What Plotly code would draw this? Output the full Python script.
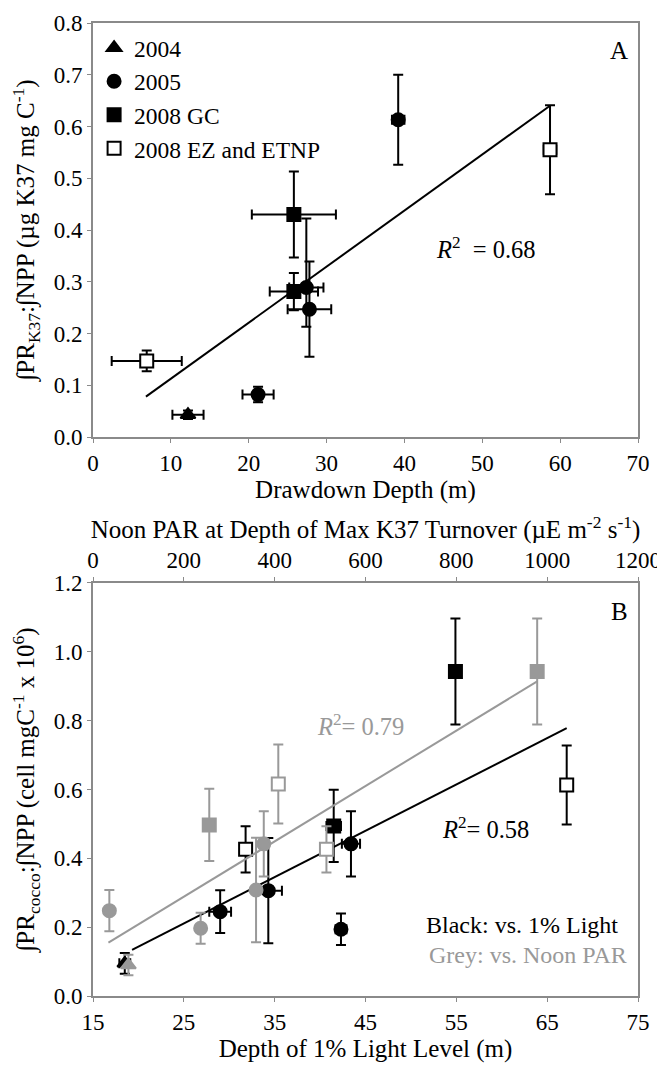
import plotly.graph_objects as go

# ---- Panel A: drawdown depth vs PR:NPP ----
y2004_x = [12.2]
y2004_y = [0.043]
y2004_xerr = [2.0]
y2004_yerr = [0.008]

y2005_x = [21.2, 27.4, 27.8, 39.2]
y2005_y = [0.082, 0.289, 0.247, 0.613]
y2005_xerr = [2.0, 2.2, 2.8, 0.8]
y2005_yerr_plus = [0.015, 0.133, 0.092, 0.087]
y2005_yerr_minus = [0.015, 0.076, 0.092, 0.087]

gc_x = [25.8, 25.8]
gc_y = [0.430, 0.281]
gc_xerr = [5.4, 3.1]
gc_yerr = [0.083, 0.036]

ez_x = [6.9, 58.7]
ez_y = [0.147, 0.555]
ez_xerr = [4.5, 0.8]
ez_yerr = [0.020, 0.086]

fitA_x = [6.8, 58.7]
fitA_y = [0.078, 0.640]

# ---- Panel B: black = depth of 1% light, grey = noon PAR ----
b_tri_x = [18.5]
b_tri_y = [0.095]
b_tri_xerr = [0.6]
b_tri_yerr = [0.03]

b_circ_x = [29.0, 34.3, 43.4, 42.3]
b_circ_y = [0.245, 0.306, 0.442, 0.194]
b_circ_xerr = [1.2, 1.5, 1.0, 0.6]
b_circ_yerr = [0.062, 0.153, 0.095, 0.046]

b_sq_x = [41.5, 54.9]
b_sq_y = [0.494, 0.943]
b_sq_xerr = [0.8, 0.0]
b_sq_yerr = [0.105, 0.154]

b_osq_x = [31.8, 67.15]
b_osq_y = [0.426, 0.613]
b_osq_yerr = [0.067, 0.115]

fitB_black_x = [19.3, 67.15]
fitB_black_y = [0.134, 0.778]

g_tri_x = [78]
g_tri_y = [0.09]
g_tri_yerr = [0.03]

g_circ_x = [36, 237, 359, 376]
g_circ_y = [0.248, 0.197, 0.308, 0.442]
g_circ_yerr = [0.06, 0.045, 0.152, 0.095]

g_sq_x = [256, 978]
g_sq_y = [0.497, 0.943]
g_sq_yerr = [0.105, 0.154]

g_osq_x = [408, 514]
g_osq_y = [0.616, 0.426]
g_osq_yerr = [0.115, 0.067]

fitB_grey_x = [34, 978]
fitB_grey_y = [0.155, 0.914]

FONT = "Liberation Serif"
GREY = "#999999"
AXIS = "#8a8a8a"


def _err(vals, color, minus=None):
    d = dict(type="data", array=vals, color=color, thickness=2, width=5, visible=True)
    if minus is not None:
        d["symmetric"] = False
        d["arrayminus"] = minus
    return d


fig = go.Figure()

# ── Panel A ───────────────────────────────────────────────────────────────
fig.add_trace(go.Scatter(x=fitA_x, y=fitA_y, mode="lines", line=dict(color="black", width=2),
                         showlegend=False, xaxis="x", yaxis="y"))

for name, xs, ys, xe, ye, sym, fill, yem in [
    ("2004", y2004_x, y2004_y, y2004_xerr, y2004_yerr, "triangle-up", "black", None),
    ("2005", y2005_x, y2005_y, y2005_xerr, y2005_yerr_plus, "circle", "black", y2005_yerr_minus),
    ("2008 GC", gc_x, gc_y, gc_xerr, gc_yerr, "square", "black", None),
    ("2008 EZ and ETNP", ez_x, ez_y, ez_xerr, ez_yerr, "square", "white", None),
]:
    fig.add_trace(go.Scatter(
        x=xs, y=ys, mode="markers", name=name, legendgroup=name,
        marker=dict(symbol=sym, size=13, color=fill, line=dict(color="black", width=2)),
        error_x=_err(xe, "black"), error_y=_err(ye, "black", yem),
        xaxis="x", yaxis="y",
    ))

# ── Panel B: black (depth of 1% light) ────────────────────────────────────
fig.add_trace(go.Scatter(x=fitB_black_x, y=fitB_black_y, mode="lines",
                         line=dict(color="black", width=2), showlegend=False,
                         xaxis="x2", yaxis="y2"))
for xs, ys, xe, ye, sym, fill in [
    (b_tri_x, b_tri_y, b_tri_xerr, b_tri_yerr, "triangle-up", "black"),
    (b_circ_x, b_circ_y, b_circ_xerr, b_circ_yerr, "circle", "black"),
    (b_sq_x, b_sq_y, b_sq_xerr, b_sq_yerr, "square", "black"),
    (b_osq_x, b_osq_y, None, b_osq_yerr, "square", "white"),
]:
    fig.add_trace(go.Scatter(
        x=xs, y=ys, mode="markers", showlegend=False,
        marker=dict(symbol=sym, size=13, color=fill, line=dict(color="black", width=2)),
        error_x=_err(xe, "black") if xe else None, error_y=_err(ye, "black"),
        xaxis="x2", yaxis="y2",
    ))

# ── Panel B: grey (noon PAR) ──────────────────────────────────────────────
fig.add_trace(go.Scatter(x=fitB_grey_x, y=fitB_grey_y, mode="lines",
                         line=dict(color=GREY, width=2), showlegend=False,
                         xaxis="x3", yaxis="y2"))
for xs, ys, ye, sym, fill in [
    (g_tri_x, g_tri_y, g_tri_yerr, "triangle-up", GREY),
    (g_circ_x, g_circ_y, g_circ_yerr, "circle", GREY),
    (g_sq_x, g_sq_y, g_sq_yerr, "square", GREY),
    (g_osq_x, g_osq_y, g_osq_yerr, "square", "white"),
]:
    fig.add_trace(go.Scatter(
        x=xs, y=ys, mode="markers", showlegend=False,
        marker=dict(symbol=sym, size=13, color=fill, line=dict(color=GREY, width=2)),
        error_y=_err(ye, GREY),
        xaxis="x3", yaxis="y2",
    ))

axis_common = dict(showline=True, linecolor=AXIS, linewidth=2, ticks="outside",
                   ticklen=4, tickcolor=AXIS, tickwidth=1, showgrid=False, zeroline=False,
                   automargin=False,
                   tickfont=dict(family=FONT, size=23, color="black"),
                   title_font=dict(family=FONT, size=25, color="black"))

# page body has an 8px margin, so the figure is sized to fit inside it
fig.update_layout(
    width=657, height=1058,
    paper_bgcolor="white", plot_bgcolor="white",
    margin=dict(l=85, r=27, t=15, b=70),
    font=dict(family=FONT, color="black"),
    xaxis=dict(domain=[0, 1], anchor="y", range=[0, 70], dtick=10, mirror=True,
               title=dict(text="Drawdown Depth (m)", standoff=0), **axis_common),
    yaxis=dict(domain=[0.5745, 1.0], anchor="x", range=[0, 0.8], dtick=0.1,
               tickformat=".1f", mirror=True,
               title=dict(text="∫PR<sub>K37</sub>:∫NPP (µg K37 mg C<sup>-1</sup>)", standoff=16),
               **axis_common),
    xaxis2=dict(domain=[0, 1], anchor="y2", range=[15, 75], tick0=15, dtick=10, mirror=True,
                title=dict(text="Depth of 1% Light Level (m)", standoff=2), **axis_common),
    yaxis2=dict(domain=[0, 0.4245], anchor="x2", range=[0, 1.2], dtick=0.2,
                tickformat=".1f", mirror=True,
                title=dict(text="∫PR<sub>cocco</sub>:∫NPP (cell mgC<sup>-1</sup> x 10<sup>6</sup>)",
                           standoff=16),
                **axis_common),
    xaxis3=dict(overlaying="x2", anchor="y2", side="top", range=[0, 1200], dtick=200,
                title=dict(text="Noon PAR at Depth of Max K37 Turnover (µE m<sup>-2</sup> s<sup>-1</sup>)",
                           standoff=2),
                **axis_common),
    legend=dict(x=0.002, y=0.997, xanchor="left", yanchor="top",
                font=dict(family=FONT, size=23.5, color="black"),
                bgcolor="rgba(0,0,0,0)", traceorder="grouped", tracegroupgap=0,
                itemwidth=30),
    annotations=[
        dict(text="A", x=0.985, y=0.988, xref="paper", yref="paper", xanchor="right",
             yanchor="top", showarrow=False, font=dict(family=FONT, size=25)),
        dict(text="B", x=0.985, y=0.411, xref="paper", yref="paper", xanchor="right",
             yanchor="top", showarrow=False, font=dict(family=FONT, size=25)),
        dict(text="<i>R</i><sup>2</sup>  = 0.68", x=50.5, y=0.365, xref="x", yref="y",
             showarrow=False, font=dict(family=FONT, size=24.5)),
        dict(text="<i>R</i><sup>2</sup>= 0.79", x=44.5, y=0.788, xref="x2", yref="y2",
             showarrow=False, font=dict(family=FONT, size=24.5, color=GREY)),
        dict(text="<i>R</i><sup>2</sup>= 0.58", x=58.2, y=0.488, xref="x2", yref="y2",
             showarrow=False, font=dict(family=FONT, size=24.5)),
        dict(text="Black: vs. 1% Light", x=0.967, y=0.0576, xref="paper", yref="paper",
             xanchor="right", showarrow=False, font=dict(family=FONT, size=24)),
        dict(text="Grey: vs. Noon PAR", x=0.983, y=0.0267, xref="paper", yref="paper",
             xanchor="right", showarrow=False, font=dict(family=FONT, size=24, color=GREY)),
    ],
)

fig.write_html("out.html")
